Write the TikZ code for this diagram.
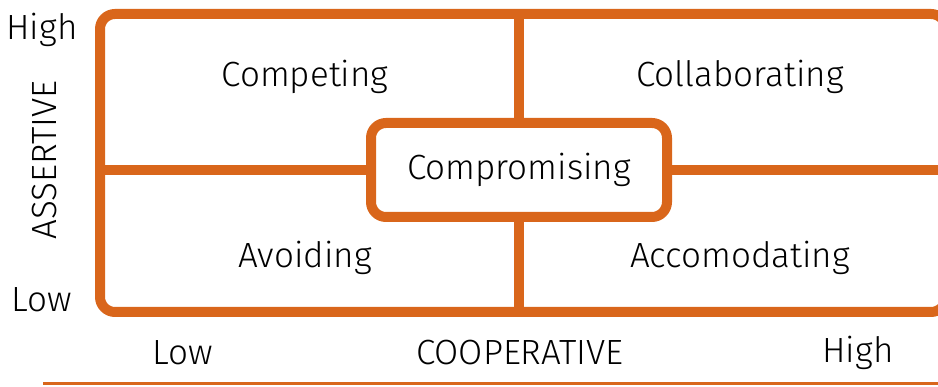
\documentclass[tikz,border=0pt]{standalone}
\usepackage{fontspec}
\setmainfont{Fira Sans}[UprightFont={* Light}]
\definecolor{tkorange}{RGB}{217,102,27}
\begin{document}
\begin{tikzpicture}[x=1pt, y=-1pt,
  lbl/.style={font=\fontsize{35}{40}\selectfont, inner sep=0pt},
  frame/.style={draw=tkorange, line width=10pt, rounded corners=15pt,
                outer sep=0pt, inner sep=0pt},
  sep/.style={draw=tkorange, line width=10pt}
]
  \useasboundingbox (0,0) rectangle (938,387);
  % grid frame and middle box
  \node[frame, minimum width=846pt, minimum height=298pt] (grid) at (523,163) {};
  \node[frame, lbl, minimum width=296pt, minimum height=94pt] (comp) at (519,170) {Compromising};
  \draw[sep] (comp.north) -- (comp.north |- grid.north);
  \draw[sep] (comp.south) -- (comp.south |- grid.south);
  \draw[sep] (comp.west) -- (comp.west -| grid.west);
  \draw[sep] (comp.east) -- (comp.east -| grid.east);
  % quadrants
  \node[lbl] (compet) at (305,77)  {Competing};
  \node[lbl] (collab) at (740,77)  {Collaborating};
  \node[lbl] (avoid)  at (305,258) {Avoiding};
  \node[lbl] (accom)  at (740,258) {Accomodating};
  % axes
  \node[lbl] (ahigh) at (42,30)  {High};
  \node[lbl] (alow)  at (42,300) {Low};
  \node[lbl, rotate=90] (assert) at (45,160) {ASSERTIVE};
  \node[lbl] (clow)  at (183,353) {Low};
  \node[lbl] (coop)  at (520,353) {COOPERATIVE};
  \node[lbl] (chigh) at (858,353) {High};
  \coordinate (axl) at (43,384);
  \coordinate (axr) at (940,384);
  \draw[tkorange, line width=3pt] (axl) -- (axr);
\end{tikzpicture}
\end{document}
